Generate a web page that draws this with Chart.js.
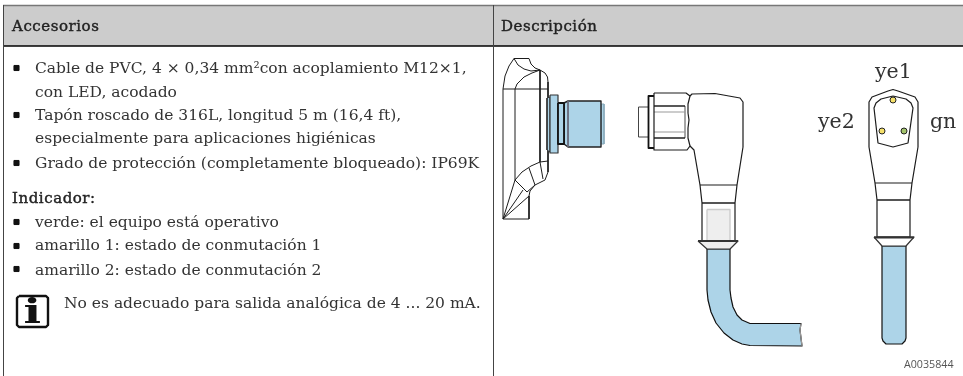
<!DOCTYPE html>
<html lang="es">
<head>
<meta charset="utf-8">
<title>Accesorios</title>
<script src="https://cdn.jsdelivr.net/npm/chart.js@4"></script>
<style>
  html, body { margin: 0; padding: 0; background: #fff; overflow: hidden; }
  #stage { position: relative; width: 963px; height: 376px; }
  canvas { position: absolute; left: 0; top: 0; }
  .t { position: absolute; white-space: nowrap; font-family: "DejaVu Serif", serif; line-height: 20px; color: #333; }
</style>
</head>
<body>
<div id="stage"><canvas id="drawing" width="963" height="376"></canvas></div>
<script>
// texts
const headers = ['Accesorios', 'Descripción'];
const bodyLines = [
  'Cable de PVC, 4 × 0,34 mm²con acoplamiento M12×1,',
  'con LED, acodado',
  'Tapón roscado de 316L, longitud 5 m (16,4 ft),',
  'especialmente para aplicaciones higiénicas',
  'Grado de protección (completamente bloqueado): IP69K',
  'verde: el equipo está operativo',
  'amarillo 1: estado de conmutación 1',
  'amarillo 2: estado de conmutación 2'
];
const bodyBaselines = [73, 97, 120, 143, 168, 227, 250, 275];
const indicatorTitle = 'Indicador:';
const noteText = 'No es adecuado para salida analógica de 4 ... 20 mA.';
const pinLabels = ['ye1', 'ye2', 'gn'];
const pinLabelX = [875, 818, 930];
const pinLabelY = [78, 128, 128];
const figureCode = 'A0035844';

// table frame
const headerBand = [[3, 5], [963, 5], [963, 46], [3, 46]];
const topRule = [[3, 5.5], [963, 5.5]];
const headerRule = [[3, 46], [963, 46]];
const leftRule = [[3.5, 5], [3.5, 376]];
const midRule = [[493.5, 5], [493.5, 376]];
const bulletMarks = [[16.5, 68], [16.5, 115], [16.5, 163], [16.5, 222], [16.5, 246], [16.5, 269]];
const infoBox = [[19, 296], [46, 296], [48, 298], [48, 325], [46, 327], [19, 327], [17, 325], [17, 298], [19, 296]];

// wall plate, left view
const plateLeft = [[503, 219], [503, 89], [505, 76], [509, 66], [514, 58.5], [529, 58.5], [531, 64], [535, 68], [540, 70], [545, 73], [547.5, 77], [548, 82], [548, 172], [545, 180], [535, 185], [530, 191], [529, 196], [529, 219], [503, 219]];
const plateDiag = [[503, 219], [515, 180], [522, 172], [531, 166], [540, 162], [548, 161]];
const plateInner = [[515, 180], [515, 89], [517, 84], [524, 77], [532, 73], [540, 70]];
const plateCross = [[503, 89], [548, 89]];
const plateRib = [[540, 70], [540, 162], [543, 179]];
const plateTopCurve = [[514, 58.5], [518, 65], [524, 69], [531, 71], [540, 70]];
const plateLowA = [[515, 180], [527, 192], [535, 185]];
const plateLowB = [[529, 168], [535, 185]];
const plateFanA = [[503, 219], [523, 190]];
const plateFanB = [[503, 219], [529, 196]];

// blue socket
const socketFlange = [[550, 95], [558, 95], [558, 153], [550, 153]];
const socketChamfer = [[550, 97], [547, 98], [547, 150], [550, 152]];
const socketNeck = [[558, 103], [564, 103], [564, 144], [558, 144]];
const socketBody = [[564, 103], [568, 101], [601, 101], [601, 147], [568, 147], [564, 144]];
const socketPin = [[601, 104], [604, 104], [604, 144], [601, 144]];
const socketSeam = [[568, 101], [568, 147]];

// angled connector
const elbowPin = [[648, 107], [638.5, 107], [638.5, 137], [648, 137]];
const elbowCollar = [[654, 96], [648.5, 96], [648.5, 148], [654, 148]];
const nutOutline = [[654, 93], [686, 93], [690, 96], [688, 104], [688, 113], [689, 120], [688, 128], [688, 138], [690, 146], [687, 150], [654, 150], [654, 93]];
const nutRuleA = [[654, 106], [685, 106]];
const nutRuleB = [[654, 138], [685, 138]];
const nutFaintA = [[654, 112], [685, 112]];
const nutFaintB = [[654, 132], [685, 132]];
const nutFaintC = [[685, 106], [685, 138]];
const elbowBody = [[690, 96], [692, 94], [715, 93.5], [740, 98], [743, 102], [743, 147], [737, 185], [735, 203], [735, 241], [702, 241], [702, 203], [700, 185], [694, 150], [690, 146]];
const elbowRuleA = [[700, 185], [737, 185]];
const elbowRuleB = [[702, 203], [735, 203]];
const elbowInset = [[707, 209.5], [730, 209.5], [730, 249], [707, 249]];
const elbowBand = [[698, 241], [738, 241]];
const elbowSkirt = [[698, 241], [707, 249], [730, 249], [738, 241]];
const cableBend = [[707, 249], [730, 249], [730, 290], [731, 298], [733, 307], [737, 315], [742, 320], [750, 323.5], [801, 323.5], [800, 330], [802, 346], [750, 345.5], [742, 344], [733, 340], [724, 333], [716, 323], [711, 312], [708, 300], [707, 290]];
const cableEnd = [[801, 323.5], [800, 330], [802, 346]];

// front view
const headOutline = [[877, 200], [875, 183], [869, 147], [869, 102], [872, 97], [888, 91], [893, 89.5], [898, 91], [915, 97], [918, 102], [918, 147], [912, 183], [910, 200], [910, 237], [877, 237], [877, 200]];
const headFace = [[893, 96], [881, 99], [876, 103], [874, 108], [878, 143], [893, 147], [908, 143], [913, 108], [911, 103], [906, 99], [893, 96]];
const headRuleA = [[875, 183], [912, 183]];
const headRuleB = [[877, 200], [910, 200]];
const headBand = [[874, 237.5], [914, 237.5]];
const headSkirt = [[874, 237], [882, 246], [906, 246], [914, 237]];
const frontCable = [[882, 246], [906, 246], [906, 338], [905, 341], [902, 344], [886, 344], [883, 341], [882, 338]];
const ledYellow = [[893, 100], [882, 131]];
const ledGreen = [[904, 131]];

const toXY = pts => pts.map(p => ({ x: p[0], y: p[1] }));

// one outline, optional fill
function shape(pts, color, width, fillColor, closed) {
  const data = toXY(closed ? pts.concat([pts[0]]) : pts);
  return {
    data: data,
    showLine: true,
    pointRadius: 0,
    borderColor: color,
    borderWidth: width,
    borderJoinStyle: 'round',
    tension: 0,
    backgroundColor: fillColor || 'transparent',
    fill: fillColor ? 'shape' : false
  };
}

function dots(pts, fillColor, radius, style, edge) {
  return {
    data: toXY(pts),
    showLine: false,
    pointRadius: radius,
    pointStyle: style,
    pointBackgroundColor: fillColor,
    pointBorderColor: edge,
    pointBorderWidth: 1
  };
}

const BLUE = '#add4e8';
const INK = '#1c1c1c';

// painted back to front, reversed below because Chart.js paints the first dataset last
const layers = [
  shape(headerBand, 'transparent', 0, '#cccccc', true),
  shape(topRule, '#777777', 1.5),
  shape(headerRule, '#000000', 1.5),
  shape(leftRule, '#444444', 1),
  shape(midRule, '#444444', 1),
  dots(bulletMarks, '#111111', 3.6, 'rect', '#111111'),
  shape(infoBox, '#111111', 2.4),

  shape(plateLeft, INK, 1),
  shape(plateDiag, INK, 1),
  shape(plateInner, INK, 1),
  shape(plateCross, INK, 1),
  shape(plateRib, INK, 1),
  shape(plateTopCurve, INK, 1),
  shape(plateLowA, INK, 1),
  shape(plateLowB, INK, 1),
  shape(plateFanA, INK, 1),
  shape(plateFanB, INK, 1),

  shape(socketChamfer, '#333333', 1, BLUE, true),
  shape(socketFlange, '#333333', 1.2, BLUE, true),
  shape(socketPin, '#88aabb', 1, BLUE, true),
  shape(socketBody, '#222222', 1.4, BLUE, true),
  shape(socketNeck, '#111111', 1.8, BLUE, true),
  shape(socketSeam, '#666677', 1),

  shape(elbowPin, '#444444', 1),
  shape(elbowCollar, '#111111', 1.8),
  shape(nutFaintA, '#999999', 1),
  shape(nutFaintB, '#999999', 1),
  shape(nutFaintC, '#999999', 1),
  shape(nutRuleA, '#111111', 1.4),
  shape(nutRuleB, '#111111', 1.4),
  shape(nutOutline, INK, 1.2),
  shape(elbowBody, INK, 1.2),
  shape(elbowRuleA, INK, 1.2),
  shape(elbowRuleB, INK, 1.4),
  shape(elbowInset, '#cccccc', 1.4, '#eeeeee', true),
  shape(cableBend, '#111111', 1.2, BLUE, true),
  shape(cableEnd, '#999999', 1.2),
  shape(elbowSkirt, '#333333', 1.2, '#eeeeee', true),
  shape(elbowBand, '#333333', 2),

  shape(headOutline, INK, 1.2),
  shape(headFace, INK, 1.2),
  shape(headRuleA, INK, 1.2),
  shape(headRuleB, INK, 1.4),
  shape(frontCable, '#111111', 1.2, BLUE, true),
  shape(headSkirt, '#333333', 1.2, '#ffffff', true),
  shape(headBand, '#333333', 2),
  dots(ledYellow, '#f5e06a', 3, 'circle', '#222222'),
  dots(ledGreen, '#a3c36b', 3, 'circle', '#222222')
];

new Chart(document.getElementById('drawing'), {
  type: 'scatter',
  data: { datasets: layers.reverse() },
  options: {
    responsive: false,
    animation: false,
    events: [],
    layout: { padding: 0, autoPadding: false },
    plugins: { legend: { display: false }, tooltip: { enabled: false } },
    scales: {
      x: { type: 'linear', display: false, min: 0, max: 963 },
      y: { type: 'linear', display: false, min: 0, max: 376, reverse: true }
    }
  }
});

// text sits in plain html over the canvas
const stage = document.getElementById('stage');
function putText(text, x, baseline, size, extra) {
  const el = document.createElement('div');
  el.className = 't';
  el.textContent = text;
  el.style.left = x + 'px';
  el.style.fontSize = size + 'px';
  // DejaVu ascent/descent: 0.928 / 0.236 em
  el.style.top = (baseline - (20 - 1.164 * size) / 2 - 0.928 * size) + 'px';
  Object.assign(el.style, extra || {});
  stage.appendChild(el);
}

const semi = { webkitTextStroke: '0.4px #222', color: '#222', letterSpacing: '0.55px' };
putText(headers[0], 12, 31, 15, semi);
putText(headers[1], 501, 31, 15, semi);
bodyLines.forEach((line, i) => putText(line, 35, bodyBaselines[i], 15.5));
putText(indicatorTitle, 12, 203, 15, semi);
putText(noteText, 64, 308, 15.5);
pinLabels.forEach((label, i) => putText(label, pinLabelX[i], pinLabelY[i], 20.5));
putText('i', 26, 323, 33, { fontWeight: 'bold', color: '#111', transform: 'scaleX(1.4)' });
putText(figureCode, 904, 368, 10.7, { fontFamily: '"Open Sans", sans-serif', color: '#555' });
</script>
</body>
</html>
